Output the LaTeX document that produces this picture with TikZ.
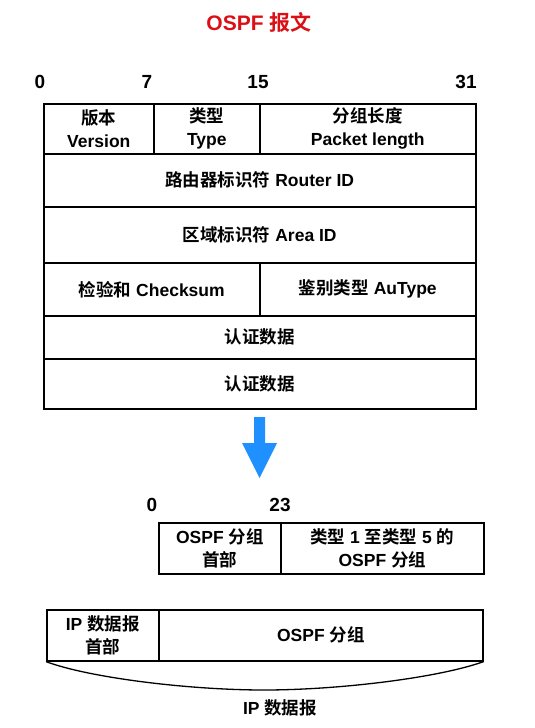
\documentclass[tikz,border=0pt]{standalone}
\usepackage{fontspec}
\setmainfont{Liberation Sans}[UprightFont={* Bold}]
\newfontfamily\cjk{Noto Sans CJK SC}[UprightFont={* Bold}]
\newcommand\zh[1]{{\cjk #1}}
\definecolor{titlered}{RGB}{218,16,22}
\definecolor{arrowblue}{RGB}{30,144,255}
\begin{document}
\begin{tikzpicture}[x=1pt,y=-1pt,
  cell/.style={draw, line width=1.6pt, inner sep=0pt, anchor=north west, align=center,
    font=\fontsize{17.5}{23}\selectfont},
  bitnum/.style={inner sep=0pt, font=\fontsize{19}{22}\selectfont}]
\useasboundingbox (0,0) rectangle (535,728);
\node[font=\fontsize{21}{24}\selectfont, text=titlered] (title) at (259,22) {OSPF \zh{报文}};
% bit numbers
\node[bitnum] (b0) at (40,82) {0};
\node[bitnum] (b7) at (147,82) {7};
\node[bitnum] (b15) at (258,82) {15};
\node[bitnum] (b31) at (466,82) {31};
% OSPF header
\node[cell, minimum width=110, minimum height=50] (ver) at (43,103) {\zh{版本}\\Version};
\node[cell, minimum width=106, minimum height=50] (type) at (153,103) {\zh{类型}\\Type};
\node[cell, minimum width=216, minimum height=50] (len) at (259,103) {\zh{分组长度}\\Packet length};
\node[cell, minimum width=432, minimum height=53] (rid) at (43,153) {\zh{路由器标识符} Router ID};
\node[cell, minimum width=432, minimum height=56] (aid) at (43,206) {\zh{区域标识符} Area ID};
\node[cell, minimum width=216, minimum height=53] (chk) at (43,262) {\zh{检验和} Checksum};
\node[cell, minimum width=216, minimum height=53] (aut) at (259,262) {\zh{鉴别类型} AuType};
\node[cell, minimum width=432, minimum height=43] (auth1) at (43,315) {\zh{认证数据}};
\node[cell, minimum width=432, minimum height=50] (auth2) at (43,358) {\zh{认证数据}};
% arrow
\fill[arrowblue] (254,417) -- (265,417) -- (265,443) -- (277,443) -- (259.5,478) -- (242,443) -- (254,443) -- cycle;
% OSPF packet
\node[bitnum] (c0) at (152,505) {0};
\node[bitnum] (c23) at (280,505) {23};
\node[cell, minimum width=122, minimum height=51] (oh) at (158,522) {OSPF \zh{分组}\\\zh{首部}};
\node[cell, minimum width=203, minimum height=51] (ob) at (280,522) {\zh{类型} 1 \zh{至类型} 5 \zh{的}\\OSPF \zh{分组}};
% IP datagram
\node[cell, minimum width=112, minimum height=51] (iph) at (46,609) {IP \zh{数据报}\\\zh{首部}};
\node[cell, minimum width=324, minimum height=51] (ipb) at (158,609) {OSPF \zh{分组}};
\coordinate (mid) at (264,690);
\draw[line width=1.3pt] (iph.south west) .. controls (90,678) and (190,690) .. (mid)
  .. controls (338,690) and (438,678) .. (ipb.south east);
\node[font=\fontsize{17.5}{20}\selectfont] (iplabel) at (280,708) {IP \zh{数据报}};
\end{tikzpicture}
\end{document}
